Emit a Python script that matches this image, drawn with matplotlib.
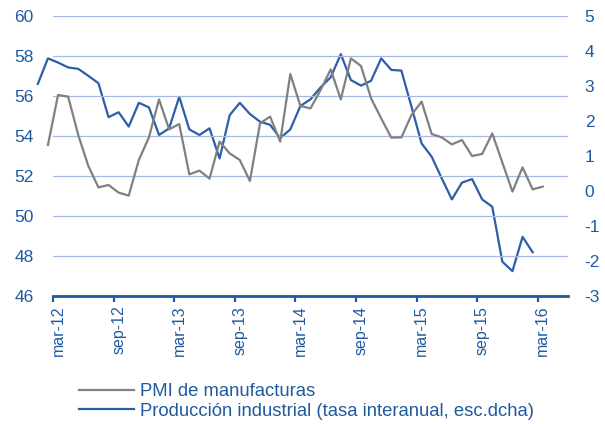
import numpy as np
import matplotlib
matplotlib.use('Agg')
import matplotlib.pyplot as plt
from matplotlib.ticker import FixedLocator

plt.rcParams['font.family'] = ['Liberation Sans', 'DejaVu Sans']
plt.rcParams['axes.unicode_minus'] = False

# months indexed from mar-12 = 0
pmi_start = -1   # feb-12
pmi = [53.55, 56.05, 55.97, 54.05, 52.5, 51.43, 51.55, 51.17, 51.02, 52.8, 53.93,
       55.83, 54.33, 54.6, 52.08, 52.27, 51.87, 53.72, 53.13, 52.8, 51.75, 54.63, 54.97,
       53.72, 57.1, 55.5, 55.38, 56.3, 57.33, 55.83, 57.88, 57.5, 55.88, 54.88, 53.92,
       53.93, 55.05, 55.72, 54.1, 53.93, 53.58, 53.8, 53.0, 53.1, 54.13, 52.67, 51.22,
       52.43, 51.33, 51.47]

prod_start = -2  # jan-12
prod = [3.06, 3.79, 3.67, 3.53, 3.49, 3.29, 3.08, 2.11, 2.25, 1.84, 2.52, 2.39,
        1.6, 1.79, 2.69, 1.76, 1.6, 1.79, 0.93, 2.17, 2.52, 2.2, 1.98, 1.89,
        1.51, 1.76, 2.43, 2.62, 2.96, 3.25, 3.91, 3.17, 3.01, 3.15, 3.79, 3.46,
        3.44, 2.41, 1.36, 0.98, 0.36, -0.24, 0.24, 0.34, -0.24, -0.45, -2.02, -2.29,
        -1.31, -1.75]

tick_labels = ['mar-12', 'sep-12', 'mar-13', 'sep-13', 'mar-14',
               'sep-14', 'mar-15', 'sep-15', 'mar-16']

grey = '#808080'
blue = '#2c5fa8'
txt_blue = '#1f5aa0'
grid_c = '#a6b9e2'

fig = plt.figure(figsize=(6.05, 4.24), dpi=100)
ax = fig.add_axes([53 / 605, 1 - 296 / 424, (568 - 53) / 605, 280 / 424])
ax2 = ax.twinx()

x_pmi = np.arange(len(pmi)) + pmi_start
x_prod = np.arange(len(prod)) + prod_start

ax.plot(x_pmi, pmi, color=grey, lw=1.6, clip_on=False, zorder=3,
        label='PMI de manufacturas')
ax2.plot(x_prod, prod, color=blue, lw=1.6, clip_on=False, zorder=3,
         label='Producción industrial (tasa interanual, esc.dcha)')

ax.set_xlim(-0.5, 50.5)
ax.set_ylim(46, 60)
ax2.set_ylim(-3, 5)
ax.set_yticks(np.arange(46, 61, 2))
ax2.set_yticks(np.arange(-3, 6, 1))
ax.grid(axis='y', color=grid_c, lw=0.9)
ax.set_axisbelow(True)

centers = np.arange(0, 49, 6)
ax.xaxis.set_major_locator(FixedLocator(centers))
ax.set_xticklabels(tick_labels, rotation=90, fontsize=11.5, color=txt_blue)
ax.xaxis.set_minor_locator(FixedLocator(np.arange(-0.5, 48, 6)))
ax.tick_params(axis='x', which='major', length=0, pad=7)
ax.tick_params(axis='x', which='minor', length=4, width=1.6, color=txt_blue,
               direction='out')

ax.tick_params(axis='y', length=0, pad=14, labelsize=12.5, labelcolor=txt_blue)
ax2.tick_params(axis='y', length=0, pad=12, labelsize=12.5, labelcolor=txt_blue)

for a in (ax, ax2):
    for s in ('top', 'left', 'right', 'bottom'):
        a.spines[s].set_visible(False)
ax.spines['bottom'].set_visible(True)
ax.spines['bottom'].set_color(txt_blue)
ax.spines['bottom'].set_linewidth(2)
ax.set_zorder(ax2.get_zorder() + 1)
ax.patch.set_visible(False)

h1, l1 = ax.get_legend_handles_labels()
h2, l2 = ax2.get_legend_handles_labels()
leg = fig.legend(h1 + h2, l1 + l2, loc='upper left',
                 bbox_to_anchor=(72 / 605, 1 - 376 / 424), frameon=False,
                 fontsize=13.3, handlelength=2.95, handletextpad=0.33,
                 labelspacing=0.12, borderaxespad=0)
for t in leg.get_texts():
    t.set_color(txt_blue)

fig.savefig('out.png', dpi=100)
